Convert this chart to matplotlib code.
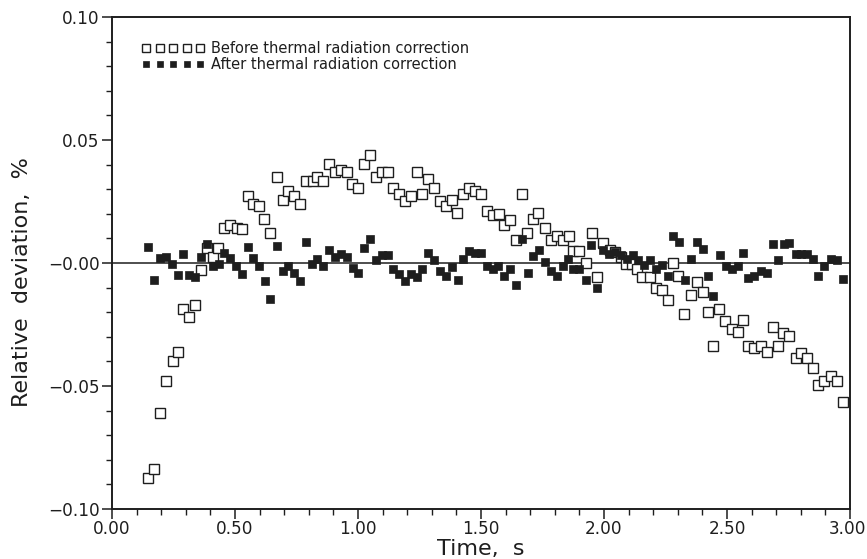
import matplotlib
matplotlib.use("Agg")
import matplotlib.pyplot as plt
import matplotlib.transforms as mtransforms

# ---- data ----
time_before = [0.148, 0.171, 0.195, 0.221, 0.247, 0.267, 0.289, 0.313, 0.337, 0.362,
               0.388, 0.409, 0.430, 0.455, 0.480, 0.507, 0.528, 0.552, 0.572, 0.599,
               0.619, 0.644, 0.669, 0.694, 0.714, 0.740, 0.764, 0.789, 0.816, 0.835,
               0.857, 0.881, 0.908, 0.932, 0.957, 0.977, 0.999, 1.024, 1.049, 1.073,
               1.099, 1.123, 1.141, 1.167, 1.191, 1.215, 1.241, 1.262, 1.286, 1.309,
               1.333, 1.358, 1.383, 1.404, 1.426, 1.451, 1.476, 1.500, 1.523, 1.548,
               1.572, 1.592, 1.618, 1.642, 1.665, 1.688, 1.713, 1.733, 1.760, 1.785,
               1.808, 1.832, 1.857, 1.875, 1.900, 1.927, 1.951, 1.970, 1.997, 2.024,
               2.045, 2.068, 2.088, 2.112, 2.136, 2.156, 2.187, 2.211, 2.234, 2.259,
               2.282, 2.302, 2.326, 2.354, 2.377, 2.401, 2.424, 2.444, 2.469, 2.493,
               2.519, 2.543, 2.566, 2.587, 2.611, 2.637, 2.661, 2.686, 2.707, 2.729,
               2.753, 2.780, 2.802, 2.827, 2.851, 2.871, 2.896, 2.921, 2.946, 2.970]
dev_before = [-0.0872, -0.0838, -0.0609, -0.0478, -0.0398, -0.0360, -0.0188, -0.0218, -0.0169, -0.0030,
              0.0061, 0.0024, 0.0061, 0.0142, 0.0156, 0.0142, 0.0140, 0.0271, 0.0239, 0.0231,
              0.0178, 0.0122, 0.0350, 0.0258, 0.0292, 0.0271, 0.0240, 0.0333, 0.0333, 0.0350,
              0.0333, 0.0402, 0.0370, 0.0380, 0.0370, 0.0320, 0.0303, 0.0402, 0.0438, 0.0350,
              0.0370, 0.0370, 0.0303, 0.0280, 0.0252, 0.0271, 0.0370, 0.0280, 0.0340, 0.0303,
              0.0252, 0.0231, 0.0255, 0.0203, 0.0280, 0.0303, 0.0292, 0.0280, 0.0210, 0.0194,
              0.0200, 0.0156, 0.0174, 0.0092, 0.0282, 0.0122, 0.0178, 0.0203, 0.0142, 0.0092,
              0.0110, 0.0092, 0.0110, 0.0047, 0.0047, 0.0000, 0.0122, -0.0057, 0.0081, 0.0051,
              0.0044, 0.0024, -0.0003, -0.0003, -0.0023, -0.0057, -0.0057, -0.0101, -0.0108, -0.0150,
              0.0000, -0.0051, -0.0209, -0.0132, -0.0078, -0.0119, -0.0200, -0.0339, -0.0189, -0.0237,
              -0.0268, -0.0282, -0.0231, -0.0339, -0.0347, -0.0339, -0.0360, -0.0261, -0.0339, -0.0286,
              -0.0298, -0.0388, -0.0367, -0.0388, -0.0428, -0.0496, -0.0478, -0.0461, -0.0478, -0.0567]

time_after = [0.148, 0.172, 0.195, 0.220, 0.244, 0.267, 0.290, 0.313, 0.337, 0.362,
              0.388, 0.409, 0.434, 0.455, 0.480, 0.504, 0.530, 0.552, 0.574, 0.599,
              0.622, 0.644, 0.669, 0.694, 0.717, 0.740, 0.764, 0.789, 0.811, 0.835,
              0.859, 0.882, 0.907, 0.929, 0.955, 0.978, 0.999, 1.024, 1.049, 1.073,
              1.099, 1.123, 1.141, 1.167, 1.191, 1.215, 1.239, 1.262, 1.283, 1.309,
              1.333, 1.358, 1.383, 1.405, 1.426, 1.451, 1.476, 1.500, 1.523, 1.548,
              1.570, 1.592, 1.618, 1.642, 1.665, 1.690, 1.710, 1.734, 1.760, 1.785,
              1.808, 1.832, 1.855, 1.875, 1.900, 1.927, 1.948, 1.970, 1.997, 2.022,
              2.045, 2.068, 2.092, 2.117, 2.140, 2.163, 2.187, 2.211, 2.234, 2.259,
              2.282, 2.305, 2.329, 2.354, 2.377, 2.401, 2.424, 2.444, 2.472, 2.495,
              2.519, 2.543, 2.566, 2.587, 2.611, 2.637, 2.661, 2.686, 2.707, 2.732,
              2.753, 2.780, 2.802, 2.827, 2.851, 2.871, 2.896, 2.921, 2.946, 2.970]
dev_after = [0.0065, -0.0070, 0.0019, 0.0024, -0.0003, -0.0048, 0.0036, -0.0050, -0.0056, 0.0024,
             0.0079, -0.0013, -0.0006, 0.0042, 0.0020, -0.0014, -0.0045, 0.0066, 0.0019, -0.0014,
             -0.0075, -0.0148, 0.0068, -0.0033, -0.0013, -0.0041, -0.0075, 0.0085, -0.0003, 0.0017,
             -0.0013, 0.0054, 0.0024, 0.0038, 0.0024, -0.0021, -0.0041, 0.0061, 0.0099, 0.0013,
             0.0031, 0.0031, -0.0026, -0.0044, -0.0075, -0.0044, -0.0057, -0.0026, 0.0042, 0.0011,
             -0.0033, -0.0051, -0.0017, -0.0068, 0.0017, 0.0049, 0.0040, 0.0040, -0.0014, -0.0026,
             -0.0014, -0.0051, -0.0026, -0.0091, 0.0099, -0.0040, 0.0027, 0.0054, 0.0004, -0.0033,
             -0.0053, -0.0014, 0.0017, -0.0026, -0.0026, -0.0071, 0.0072, -0.0101, 0.0051, 0.0038,
             0.0044, 0.0031, 0.0017, 0.0031, 0.0011, -0.0010, 0.0013, -0.0023, -0.0010, -0.0051,
             0.0110, 0.0085, -0.0071, 0.0017, 0.0085, 0.0058, -0.0051, -0.0135, 0.0031, -0.0014,
             -0.0023, -0.0014, 0.0042, -0.0060, -0.0051, -0.0034, -0.0040, 0.0079, 0.0013, 0.0079,
             0.0083, 0.0035, 0.0035, 0.0035, 0.0017, -0.0051, -0.0014, 0.0017, 0.0013, -0.0064]

label_before = "Before thermal radiation correction"
label_after = "After thermal radiation correction"
x_ticks = [0.0, 0.5, 1.0, 1.5, 2.0, 2.5, 3.0]
x_ticklabels = ["0.00", "0.50", "1.00", "1.50", "2.00", "2.50", "3.00"]
y_ticks = [-0.10, -0.05, 0.0, 0.05, 0.10]
y_ticklabels = ["\u22120.10", "\u22120.05", "\u22120.00", "0.05", "0.10"]

ink = "#1e1e1e"
plt.rcParams['font.family'] = ['DejaVu Sans']

fig = plt.figure(figsize=(8.67, 5.59), dpi=100)
W, H = 867, 559
left, right, top, bottom = 112, 850, 17, 509
ax = fig.add_axes([left / W, 1 - bottom / H, (right - left) / W, (bottom - top) / H])

ax.axhline(0, color=ink, lw=1.1, zorder=1)
ax.plot(time_before, dev_before, ls='none', marker='s', ms=6.7, mfc='white',
        mec=ink, mew=1.0, label=label_before, zorder=3)
ax.plot(time_after, dev_after, ls='none', marker='s', ms=5.2, mfc=ink,
        mec=ink, mew=0.5, label=label_after, zorder=4)

ax.set_xlim(0, 3.0)
ax.set_ylim(-0.10, 0.10)
ax.set_xticks(x_ticks)
ax.set_xticklabels(x_ticklabels)
ax.set_yticks(y_ticks)
ax.set_yticklabels(y_ticklabels)
ax.set_xticks([i / 10 for i in range(31)], minor=True)
ax.set_yticks([i / 100 for i in range(-10, 11)], minor=True)
ax.tick_params(which='major', direction='out', length=7, width=1.1, colors=ink,
               labelsize=12.2, pad=2)
ax.tick_params(which='minor', direction='out', length=4.5, width=1.0, colors=ink)
ax.tick_params(axis='x', which='major', pad=1)
for s in ax.spines.values():
    s.set_linewidth(1.4)
    s.set_color(ink)

# keep the last x tick label inside the canvas
last = ax.get_xticklabels()[-1]
last.set_transform(last.get_transform() + mtransforms.ScaledTranslation(-2.5 / 100, 0, fig.dpi_scale_trans))

fig.text(481 / W, 1 - 549 / H, "Time,  s", ha='center', va='center', fontsize=16, color=ink)
fig.text(22 / W, 1 - 282 / H, "Relative  deviation,  %", ha='center', va='center',
         rotation=90, fontsize=16, color=ink)

leg = ax.legend(loc='upper left', bbox_to_anchor=((142 - left) / (right - left), 1 - (41 - top) / (bottom - top)),
                numpoints=5, handlelength=4.3, handletextpad=0.45, labelspacing=0.1,
                frameon=False, fontsize=10.5, borderpad=0, borderaxespad=0,
                markerscale=0.85)
for t in leg.get_texts():
    t.set_color(ink)

fig.savefig("out.png", dpi=100)
